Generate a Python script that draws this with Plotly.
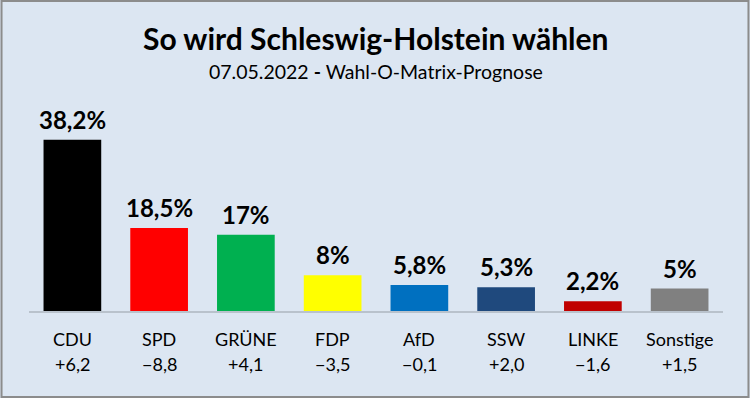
import plotly.graph_objects as go

parties = ["CDU", "SPD", "GRÜNE", "FDP", "AfD", "SSW", "LINKE", "Sonstige"]
shares = [38.2, 18.5, 17, 8, 5.8, 5.3, 2.2, 5]
changes = ["+6,2", "−8,8", "+4,1", "−3,5", "−0,1", "+2,0", "−1,6", "+1,5"]
colors = ["#000000", "#ff0000", "#00b050", "#ffff00", "#0070c0", "#1f497d", "#c00000", "#808080"]

title = "So wird Schleswig-Holstein wählen"
subtitle = "07.05.2022 <b>-</b> Wahl-O-Matrix-Prognose"

FONT = "Lato"
W, H = 750, 398
L, R, T, B = 28.5, 26.5, 100, 87

labels = [f"{v:g}".replace(".", ",") + "%" for v in shares]

fig = go.Figure(go.Bar(
    x=parties, y=shares, marker=dict(color=colors, line=dict(width=0)),
    width=0.665, hoverinfo="skip",
))

ph = H - T - B
pw = W - L - R


def ypix(py):
    return (H - B - py) / ph


annotations = [
    dict(text=f"<b>{title}</b>", x=0.5, y=ypix(38), xref="paper", yref="paper", showarrow=False,
         yanchor="middle", font=dict(family=FONT, size=30, color="#000000")),
    dict(text=subtitle, x=0.5, y=ypix(71), xref="paper", yref="paper", showarrow=False,
         yanchor="middle", font=dict(family=FONT, size=19.5, color="#000000")),
]
for p, v, lab in zip(parties, shares, labels):
    annotations.append(dict(text=f"<b>{lab}</b>", x=p, y=v, xref="x", yref="y", showarrow=False,
                            yanchor="bottom", yshift=4,
                            font=dict(family=FONT, size=24, color="#000000")))
for p, c in zip(parties, changes):
    annotations.append(dict(text=p, x=p, y=ypix(339), xref="x", yref="paper", showarrow=False,
                            yanchor="middle", font=dict(family=FONT, size=18, color="#000000")))
    annotations.append(dict(text=c, x=p, y=ypix(364), xref="x", yref="paper", showarrow=False,
                            yanchor="middle", font=dict(family=FONT, size=18, color="#000000")))

fig.update_layout(
    width=W, height=H, margin=dict(l=L, r=R, t=T, b=B, pad=0),
    paper_bgcolor="#dce6f2", plot_bgcolor="#dce6f2",
    showlegend=False, bargap=0.335,
    xaxis=dict(showticklabels=False, showgrid=False, zeroline=False, showline=True,
               linecolor="#b9c2cc", linewidth=2, ticks=""),
    yaxis=dict(range=[0, ph / 4.48], visible=False, showgrid=False, zeroline=False),
    annotations=annotations,
    shapes=[dict(type="rect", xref="paper", yref="paper",
                 x0=(1 - L) / pw, x1=(W - 1 - L) / pw,
                 y0=ypix(H - 1), y1=ypix(1),
                 line=dict(color="#8c8c8c", width=2), fillcolor="rgba(0,0,0,0)", layer="above")],
)

fig.write_html("out.html", config={"displayModeBar": False},
               post_script="document.body.style.margin='0';document.body.style.padding='0';")
